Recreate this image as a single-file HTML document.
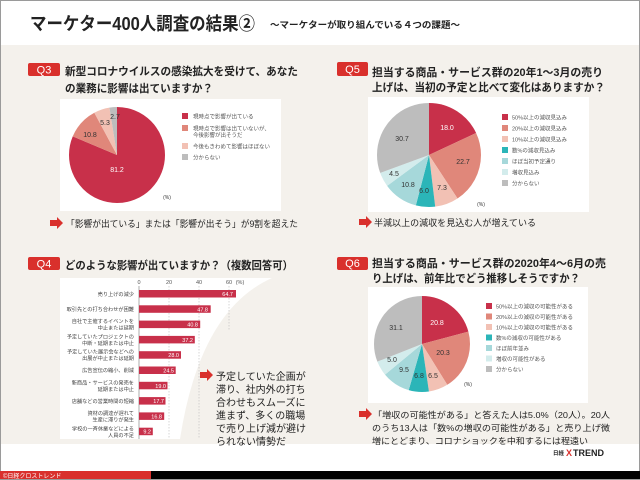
<!DOCTYPE html>
<html><head><meta charset="utf-8"><style>
html,body{margin:0;padding:0;background:#fff}
svg{display:block}
text{font-family:"Liberation Sans","Noto Sans CJK JP",sans-serif}
</style></head><body>
<svg width="640" height="480" viewBox="0 0 640 480" xmlns="http://www.w3.org/2000/svg">
<rect x="0" y="0" width="640" height="480" fill="#fff"/>
<rect x="0" y="45" width="640" height="399" fill="#f4f1ec"/>
<rect x="0.5" y="0.5" width="639" height="479" fill="none" stroke="#9a9a9a"/>
<text x="30" y="30" font-size="18" font-weight="bold" fill="#222" textLength="225" lengthAdjust="spacingAndGlyphs">マーケター400人調査の結果②</text>
<text x="270" y="28" font-size="9" font-weight="bold" fill="#222" textLength="190" lengthAdjust="spacingAndGlyphs">～マーケターが取り組んでいる４つの課題～</text>

<!-- Q3 -->
<rect x="28" y="63" width="32" height="13" rx="2" fill="#d9302c"/>
<text x="44" y="73.5" font-size="11" fill="#fff" text-anchor="middle">Q3</text>
<text x="65" y="75" font-size="11" font-weight="bold" fill="#222" textLength="233" lengthAdjust="spacingAndGlyphs">新型コロナウイルスの感染拡大を受けて、あなた</text>
<text x="65" y="92" font-size="11" font-weight="bold" fill="#222" textLength="148" lengthAdjust="spacingAndGlyphs">の業務に影響は出ていますか？</text>
<rect x="60" y="99" width="221" height="112" fill="#fff"/>
<g transform="translate(117,155) rotate(-90)" fill="none" stroke-width="48">
<circle r="24" stroke="#c8304a" stroke-dasharray="122.45 150.8" stroke-dashoffset="0"/>
<circle r="24" stroke="#e0877a" stroke-dasharray="16.29 150.8" stroke-dashoffset="-122.45"/>
<circle r="24" stroke="#f2c1b4" stroke-dasharray="7.99 150.8" stroke-dashoffset="-138.74"/>
<circle r="24" stroke="#bdbdbd" stroke-dasharray="4.07 150.8" stroke-dashoffset="-146.73"/>
</g>
<g font-size="7" fill="#333" text-anchor="middle">
<text x="117" y="172" fill="#fff">81.2</text><text x="90" y="137">10.8</text><text x="105" y="125">5.3</text><text x="115" y="119">2.7</text>
<text x="167" y="199" font-size="5">(%)</text>
</g>
<g font-size="5.5" fill="#555">
<rect x="182" y="113" width="6" height="6" fill="#c8304a"/><text x="193" y="118.5">現時点で影響が出ている</text>
<rect x="182" y="125" width="6" height="6" fill="#e0877a"/><text x="193" y="130.5">現時点で影響は出ていないが、</text><text x="193" y="137">今後影響が出そうだ</text>
<rect x="182" y="143" width="6" height="6" fill="#f2c1b4"/><text x="193" y="148.5">今後もきわめて影響はほぼない</text>
<rect x="182" y="154" width="6" height="6" fill="#bdbdbd"/><text x="193" y="159.5">分からない</text>
</g>
<polygon points="50,220 57,220 57,217 63,223 57,229 57,226 50,226" fill="#d9302c"/>
<text x="66" y="227" font-size="9" fill="#222" textLength="232" lengthAdjust="spacingAndGlyphs">「影響が出ている」または「影響が出そう」が9割を超えた</text>

<!-- Q5 -->
<rect x="337" y="62" width="31" height="14" rx="2" fill="#d9302c"/>
<text x="352.5" y="73" font-size="11" fill="#fff" text-anchor="middle">Q5</text>
<text x="372" y="76" font-size="11" font-weight="bold" fill="#222" textLength="231" lengthAdjust="spacingAndGlyphs">担当する商品・サービス群の20年1～3月の売り</text>
<text x="372" y="91" font-size="11" font-weight="bold" fill="#222" textLength="233" lengthAdjust="spacingAndGlyphs">上げは、当初の予定と比べて変化はありますか？</text>
<rect x="368" y="97" width="221" height="115" fill="#fff"/>
<g transform="translate(429,155) rotate(-90)" fill="none" stroke-width="52">
<circle r="26" stroke="#c8304a" stroke-dasharray="29.40 163.4" stroke-dashoffset="0"/>
<circle r="26" stroke="#e0877a" stroke-dasharray="37.08 163.4" stroke-dashoffset="-29.40"/>
<circle r="26" stroke="#f2c1b4" stroke-dasharray="11.93 163.4" stroke-dashoffset="-66.48"/>
<circle r="26" stroke="#2bb5b8" stroke-dasharray="9.80 163.4" stroke-dashoffset="-78.41"/>
<circle r="26" stroke="#a6d8da" stroke-dasharray="17.64 163.4" stroke-dashoffset="-88.21"/>
<circle r="26" stroke="#d3ecec" stroke-dasharray="7.35 163.4" stroke-dashoffset="-105.85"/>
<circle r="26" stroke="#bdbdbd" stroke-dasharray="50.2 163.4" stroke-dashoffset="-113.2"/>
</g>
<g font-size="7" fill="#333" text-anchor="middle">
<text x="447" y="130" fill="#fff">18.0</text><text x="463" y="164">22.7</text><text x="442" y="190">7.3</text>
<text x="424" y="193">6.0</text><text x="408" y="187">10.8</text><text x="394" y="176">4.5</text><text x="402" y="141">30.7</text>
<text x="481" y="206" font-size="5">(%)</text>
</g>
<g font-size="5.5" fill="#555">
<rect x="502" y="114" width="6" height="6" fill="#c8304a"/><text x="512" y="119.5">50%以上の減収見込み</text>
<rect x="502" y="125" width="6" height="6" fill="#e0877a"/><text x="512" y="130.5">20%以上の減収見込み</text>
<rect x="502" y="136" width="6" height="6" fill="#f2c1b4"/><text x="512" y="141.5">10%以上の減収見込み</text>
<rect x="502" y="147" width="6" height="6" fill="#2bb5b8"/><text x="512" y="152.5">数%の減収見込み</text>
<rect x="502" y="158" width="6" height="6" fill="#a6d8da"/><text x="512" y="163.5">ほぼ当初予定通り</text>
<rect x="502" y="169" width="6" height="6" fill="#d3ecec"/><text x="512" y="174.5">増収見込み</text>
<rect x="502" y="180" width="6" height="6" fill="#bdbdbd"/><text x="512" y="185.5">分からない</text>
</g>
<polygon points="359,219 366,219 366,216 372,222 366,228 366,225 359,225" fill="#d9302c"/>
<text x="374" y="226" font-size="9" fill="#222" textLength="162" lengthAdjust="spacingAndGlyphs">半減以上の減収を見込む人が増えている</text>

<!-- Q4 -->
<rect x="28" y="257" width="32" height="13" rx="2" fill="#d9302c"/>
<text x="44" y="267.5" font-size="11" fill="#fff" text-anchor="middle">Q4</text>
<text x="65" y="269" font-size="11" font-weight="bold" fill="#222" textLength="228" lengthAdjust="spacingAndGlyphs">どのような影響が出ていますか？（複数回答可）</text>
<path d="M60,278 H272 Q200,310 180,439 H60 Z" fill="#fff"/>
<g stroke="#bbb" stroke-width="0.6" stroke-dasharray="1.5 1.5">
<line x1="169" y1="286" x2="169" y2="439"/><line x1="199" y1="286" x2="199" y2="439"/><line x1="229" y1="286" x2="229" y2="330"/>
</g>
<line x1="139" y1="286" x2="139" y2="439" stroke="#888" stroke-width="0.7"/>
<g font-size="5.5" fill="#555" text-anchor="middle">
<text x="139" y="284">0</text><text x="169" y="284">20</text><text x="199" y="284">40</text><text x="229" y="284">60</text><text x="240" y="284">(%)</text>
</g>
<g fill="#c8304a">
<rect x="139" y="290" width="97" height="7.5"/>
<rect x="139" y="305.3" width="71.7" height="7.5"/>
<rect x="139" y="320.6" width="61.2" height="7.5"/>
<rect x="139" y="335.9" width="55.8" height="7.5"/>
<rect x="139" y="351.2" width="42" height="7.5"/>
<rect x="139" y="366.5" width="36.7" height="7.5"/>
<rect x="139" y="381.8" width="28.5" height="7.5"/>
<rect x="139" y="397.1" width="26.5" height="7.5"/>
<rect x="139" y="412.4" width="25.2" height="7.5"/>
<rect x="139" y="427.7" width="13.8" height="7.5"/>
</g>
<g font-size="5.5" fill="#fff" text-anchor="end">
<text x="233" y="296">64.7</text><text x="208" y="311.3">47.8</text><text x="198" y="326.6">40.8</text><text x="193" y="341.9">37.2</text>
<text x="179" y="357.2">28.0</text><text x="174" y="372.5">24.5</text><text x="166" y="387.8">19.0</text><text x="164" y="403.1">17.7</text>
<text x="162" y="418.4">16.8</text><text x="151" y="433.7">9.2</text>
</g>
<g font-size="5.2" fill="#444" text-anchor="end">
<text x="134" y="296">売り上げの減少</text>
<text x="134" y="311">取引先との打ち合わせが困難</text>
<text x="134" y="323">自社で主催するイベントを</text><text x="134" y="329.5">中止または延期</text>
<text x="134" y="338.5">予定していたプロジェクトの</text><text x="134" y="345">中断・延期または中止</text>
<text x="134" y="353.5">予定していた展示会などへの</text><text x="134" y="360">出展が中止または延期</text>
<text x="134" y="372">広告宣伝の縮小、削減</text>
<text x="134" y="384.5">新商品・サービスの発売を</text><text x="134" y="391">延期または中止</text>
<text x="134" y="403">店舗などの営業時間の短縮</text>
<text x="134" y="415">資材の調達が遅れて</text><text x="134" y="421.5">生産に滞りが発生</text>
<text x="134" y="430.5">学校の一斉休業などによる</text><text x="134" y="437">人員の不足</text>
</g>
<polygon points="200,372 207,372 207,369 213,375 207,381 207,378 200,378" fill="#d9302c"/>
<g font-size="10" fill="#222">
<text x="216" y="380">予定していた企画が</text><text x="216" y="393">滞り、社内外の打ち</text><text x="216" y="406">合わせもスムーズに</text>
<text x="216" y="419">進まず、多くの職場</text><text x="216" y="432">で売り上げ減が避け</text><text x="216" y="445">られない情勢だ</text>
</g>

<!-- Q6 -->
<rect x="337" y="257" width="31" height="13" rx="2" fill="#d9302c"/>
<text x="352.5" y="267" font-size="11" fill="#fff" text-anchor="middle">Q6</text>
<text x="372" y="267" font-size="11" font-weight="bold" fill="#222" textLength="234" lengthAdjust="spacingAndGlyphs">担当する商品・サービス群の2020年4～6月の売</text>
<text x="372" y="282" font-size="11" font-weight="bold" fill="#222" textLength="208" lengthAdjust="spacingAndGlyphs">り上げは、前年比でどう推移しそうですか？</text>
<rect x="368" y="287" width="220" height="116" fill="#fff"/>
<g transform="translate(422,344) rotate(-90)" fill="none" stroke-width="48">
<circle r="24" stroke="#c8304a" stroke-dasharray="31.37 150.8" stroke-dashoffset="0"/>
<circle r="24" stroke="#e0877a" stroke-dasharray="30.61 150.8" stroke-dashoffset="-31.37"/>
<circle r="24" stroke="#f2c1b4" stroke-dasharray="9.80 150.8" stroke-dashoffset="-61.98"/>
<circle r="24" stroke="#2bb5b8" stroke-dasharray="10.25 150.8" stroke-dashoffset="-71.78"/>
<circle r="24" stroke="#a6d8da" stroke-dasharray="14.33 150.8" stroke-dashoffset="-82.03"/>
<circle r="24" stroke="#d3ecec" stroke-dasharray="7.54 150.8" stroke-dashoffset="-96.36"/>
<circle r="24" stroke="#bdbdbd" stroke-dasharray="46.9 150.8" stroke-dashoffset="-103.9"/>
</g>
<g font-size="7" fill="#333" text-anchor="middle">
<text x="437" y="325" fill="#fff">20.8</text><text x="443" y="355">20.3</text><text x="433" y="378">6.5</text>
<text x="419" y="378">6.8</text><text x="404" y="372">9.5</text><text x="392" y="362">5.0</text><text x="396" y="330">31.1</text>
<text x="468" y="386" font-size="5">(%)</text>
</g>
<g font-size="5.5" fill="#555">
<rect x="486" y="303" width="6" height="6" fill="#c8304a"/><text x="496" y="308.5">50%以上の減収の可能性がある</text>
<rect x="486" y="313.5" width="6" height="6" fill="#e0877a"/><text x="496" y="319">20%以上の減収の可能性がある</text>
<rect x="486" y="324" width="6" height="6" fill="#f2c1b4"/><text x="496" y="329.5">10%以上の減収の可能性がある</text>
<rect x="486" y="334.5" width="6" height="6" fill="#2bb5b8"/><text x="496" y="340">数%の減収の可能性がある</text>
<rect x="486" y="345" width="6" height="6" fill="#a6d8da"/><text x="496" y="350.5">ほぼ前年並み</text>
<rect x="486" y="355.5" width="6" height="6" fill="#d3ecec"/><text x="496" y="361">増収の可能性がある</text>
<rect x="486" y="366" width="6" height="6" fill="#bdbdbd"/><text x="496" y="371.5">分からない</text>
</g>
<polygon points="359,411 366,411 366,408 372,414 366,420 366,417 359,417" fill="#d9302c"/>
<g font-size="8.6" fill="#222">
<text x="373" y="418" textLength="237" lengthAdjust="spacingAndGlyphs">「増収の可能性がある」と答えた人は5.0%（20人）。20人</text>
<text x="372" y="431" textLength="238" lengthAdjust="spacingAndGlyphs">のうち13人は「数%の増収の可能性がある」と売り上げ微</text>
<text x="372" y="444" textLength="216" lengthAdjust="spacingAndGlyphs">増にとどまり、コロナショックを中和するには程遠い</text>
</g>
<text x="553" y="455" font-size="5.5" font-weight="bold" fill="#222">日経</text>
<text x="566" y="456" font-size="9" font-weight="bold" fill="#d9302c">X</text>
<text x="573" y="456" font-size="9" font-weight="bold" fill="#222">TREND</text>

<rect x="0" y="471" width="151" height="8" fill="#d9302c"/>
<rect x="151" y="471" width="489" height="8" fill="#000"/>
<text x="3" y="478" font-size="6" fill="#fff">©日経クロストレンド</text>
</svg>
</body></html>
